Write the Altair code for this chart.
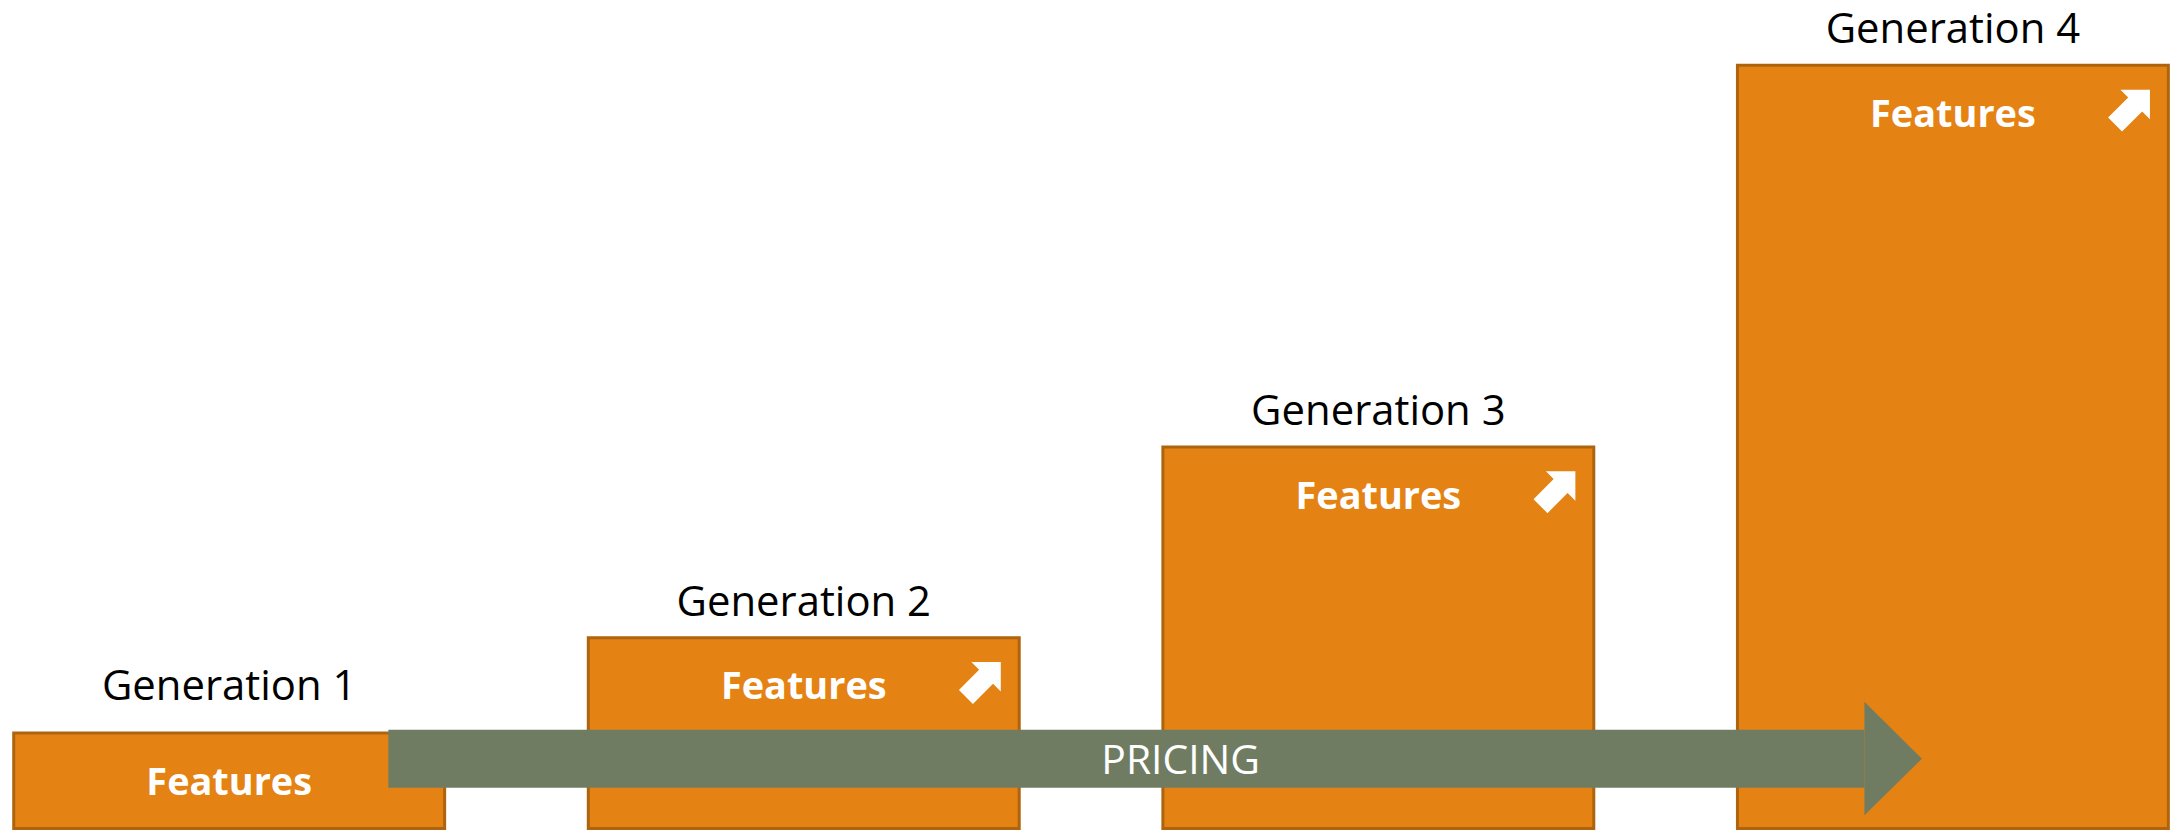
import altair as alt
import pandas as pd

# ---------------- data ----------------
generations = ["Generation 1", "Generation 2", "Generation 3", "Generation 4"]
generation_index = [1, 2, 3, 4]
feature_level = [1, 2, 4, 8]
feature_label = ["Features", "Features", "Features", "Features"]
has_upgrade_icon = [False, True, True, True]

pricing_label = ["PRICING"]
pricing_shaft_x = [1.277, 3.846]          # start of arrow, start of arrow head
pricing_head_x = [3.846, 3.946]           # head base, tip
pricing_shaft_y = [0.428, 1.034]          # low / high of shaft
pricing_head_low = [0.139, 0.731]
pricing_head_high = [1.329, 0.731]
pricing_label_x = [2.656]
pricing_center_y = [0.731]

# ---------------- styles / layout ----------------
ORANGE = "#E48213"
ORANGE_EDGE = "#AE640E"
GREEN = "#707C62"
FONT = "Open Sans"
BOX_HALF = 0.375
ICON_PATH = "M -1 -0.4 L 0.155 -0.4 L 0.155 -0.845 L 1 0 L 0.155 0.845 L 0.155 0.4 L -1 0.4 Z"

xs = alt.Scale(domain=[0.61505, 4.37784], nice=False, zero=False)
ys = alt.Scale(domain=[-0.0209, 8.5849], nice=False, zero=False)

df = pd.DataFrame({
    "generation": generations,
    "g": generation_index,
    "level": feature_level,
    "label": feature_label,
    "icon": has_upgrade_icon,
})
df["x0"] = df["g"] - BOX_HALF
df["x1"] = df["g"] + BOX_HALF
df["base"] = 0

boxes = alt.Chart(df).mark_rect(
    color=ORANGE, stroke=ORANGE_EDGE, strokeWidth=3
).encode(
    x=alt.X("x0:Q", scale=xs, axis=None),
    x2="x1:Q",
    y=alt.Y("base:Q", scale=ys, axis=None),
    y2="level:Q",
)


def gen_label_layer(data, gap):
    return alt.Chart(data).mark_text(
        font=FONT, fontSize=42, color="#000000", baseline="alphabetic", dy=gap
    ).encode(
        x=alt.X("g:Q", scale=xs, axis=None),
        y=alt.Y("level:Q", scale=ys, axis=None),
        text="generation:N",
    )


gen_labels_first = gen_label_layer(df[df["g"] == 1], -33)
gen_labels_rest = gen_label_layer(df[df["g"] > 1], -22)

feat_labels = alt.Chart(df).mark_text(
    font=FONT, fontSize=38, fontWeight="bold", color="#FFFFFF",
    baseline="alphabetic", dy=62
).encode(
    x=alt.X("g:Q", scale=xs, axis=None),
    y=alt.Y("level:Q", scale=ys, axis=None),
    text="label:N",
)

icons = alt.Chart(df[df["icon"]]).mark_point(
    shape=ICON_PATH, filled=True, color="#FFFFFF", opacity=1, size=2450,
    angle=315, strokeWidth=0, xOffset=-36, yOffset=42
).encode(
    x=alt.X("x1:Q", scale=xs, axis=None),
    y=alt.Y("level:Q", scale=ys, axis=None),
)

shaft_df = pd.DataFrame({
    "x0": [pricing_shaft_x[0]], "x1": [pricing_shaft_x[1]],
    "y0": [pricing_shaft_y[0]], "y1": [pricing_shaft_y[1]],
})
shaft = alt.Chart(shaft_df).mark_rect(color=GREEN).encode(
    x=alt.X("x0:Q", scale=xs, axis=None),
    x2="x1:Q",
    y=alt.Y("y0:Q", scale=ys, axis=None),
    y2="y1:Q",
)

head_df = pd.DataFrame({
    "x": pricing_head_x, "lo": pricing_head_low, "hi": pricing_head_high,
})
head = alt.Chart(head_df).mark_area(color=GREEN, opacity=1).encode(
    x=alt.X("x:Q", scale=xs, axis=None),
    y=alt.Y("hi:Q", scale=ys, axis=None),
    y2="lo:Q",
)

price_df = pd.DataFrame({"x": pricing_label_x, "y": pricing_center_y, "t": pricing_label})
price_text = alt.Chart(price_df).mark_text(
    font=FONT, fontSize=41, color="#FFFFFF", baseline="alphabetic", dy=15
).encode(
    x=alt.X("x:Q", scale=xs, axis=None),
    y=alt.Y("y:Q", scale=ys, axis=None),
    text="t:N",
)

chart = alt.layer(
    boxes, gen_labels_first, gen_labels_rest, feat_labels, icons, shaft, head, price_text
).properties(
    width=2170, height=824, padding=0,
    autosize=alt.AutoSizeParams(type="none"),
    background="#FFFFFF",
).configure_view(strokeWidth=0)

chart.save("out.html", embed_options={"renderer": "svg", "actions": False})
